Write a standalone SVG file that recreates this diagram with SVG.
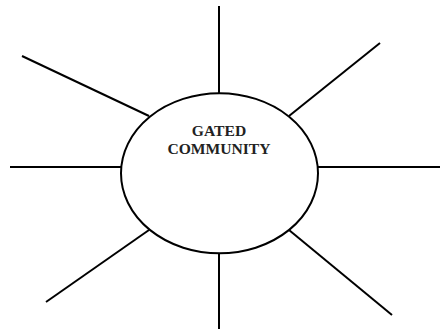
<svg xmlns="http://www.w3.org/2000/svg" width="440" height="329" viewBox="0 0 440 329">
  <style>
    .spoke { stroke: #000; stroke-width: 2; fill: none; }
    .hub { stroke: #000; stroke-width: 2; fill: #fff; }
    .label { font-family: "Liberation Serif", "Times New Roman", serif; font-weight: bold; font-size: 15.6px; fill: #222; text-anchor: middle; }
  </style>
  <rect width="440" height="329" fill="#fff"/>
  <g id="connectors">
    <line class="spoke" x1="219" y1="6" x2="219" y2="93"/>
    <line class="spoke" x1="219" y1="253" x2="219" y2="329"/>
    <line class="spoke" x1="10" y1="167" x2="121" y2="167"/>
    <line class="spoke" x1="318" y1="167" x2="440" y2="167"/>
    <line class="spoke" x1="22" y1="56" x2="149" y2="116"/>
    <line class="spoke" x1="380" y1="43" x2="289" y2="116"/>
    <line class="spoke" x1="46" y1="302" x2="149" y2="230"/>
    <line class="spoke" x1="392" y1="315" x2="289" y2="230"/>
  </g>
  <g id="gated-community">
    <ellipse class="hub" cx="219.5" cy="173.3" rx="98.5" ry="80"/>
    <text class="label" x="219" y="136">GATED</text>
    <text class="label" x="219" y="154">COMMUNITY</text>
  </g>
</svg>
